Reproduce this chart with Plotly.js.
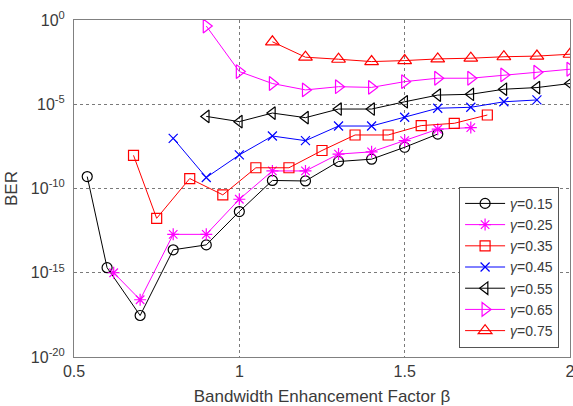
<!DOCTYPE html>
<html>
<head>
<meta charset="utf-8">
<script src="https://cdn.plot.ly/plotly-3.0.1.min.js"></script>
<style>
  html, body { margin: 0; padding: 0; background: #fff; }
  #chart { width: 573px; height: 406px; }
</style>
</head>
<body>
<div id="chart"></div>
<script>
// Bandwidth enhancement factor (beta) and BER for each roll-off gamma
const beta015 = [0.54, 0.6, 0.7, 0.8, 0.9, 1.0, 1.1, 1.2, 1.3, 1.4, 1.5, 1.6];
const ber015  = [5.1e-10, 2.0e-15, 2.9e-18, 2.3e-14, 4.5e-14, 4.3e-12, 3.0e-10, 2.8e-10, 4.0e-9, 5.5e-9, 2.8e-8, 1.7e-7];

const beta025 = [0.62, 0.7, 0.8, 0.9, 1.0, 1.1, 1.2, 1.3, 1.4, 1.5, 1.6, 1.7];
const ber025  = [1.0e-15, 2.5e-17, 1.9e-13, 1.9e-13, 2.3e-11, 1.1e-9, 1.1e-9, 1.1e-8, 1.5e-8, 6.9e-8, 3.3e-7, 4.1e-7];

const beta035 = [0.68, 0.75, 0.85, 0.95, 1.05, 1.15, 1.25, 1.35, 1.45, 1.55, 1.65, 1.75];
const ber035  = [9.3e-9, 1.7e-12, 3.9e-10, 4.2e-11, 1.7e-9, 1.7e-9, 1.8e-8, 1.5e-7, 1.5e-7, 5.4e-7, 7.4e-7, 2.3e-6];

const beta045 = [0.8, 0.9, 1.0, 1.1, 1.2, 1.3, 1.4, 1.5, 1.6, 1.7, 1.8, 1.9];
const ber045  = [9.5e-8, 4.5e-10, 9.8e-9, 1.3e-7, 6.9e-8, 5.1e-7, 5.1e-7, 1.7e-6, 5.8e-6, 6.6e-6, 1.4e-5, 1.8e-5];

const beta055 = [0.9, 1.0, 1.1, 1.2, 1.3, 1.4, 1.5, 1.6, 1.7, 1.8, 1.9, 2.0];
const ber055  = [1.9e-6, 9.3e-7, 3.0e-6, 1.6e-6, 5.2e-6, 5.2e-6, 1.4e-5, 3.5e-5, 3.9e-5, 7.8e-5, 9.8e-5, 1.7e-4];

const beta065 = [0.9, 1.0, 1.1, 1.2, 1.3, 1.4, 1.5, 1.6, 1.7, 1.8, 1.9, 2.0];
const ber065  = [0.44, 8.7e-4, 1.7e-4, 7.1e-5, 1.1e-4, 1.0e-4, 2.2e-4, 3.5e-4, 3.5e-4, 5.5e-4, 7.9e-4, 1.2e-3];

const beta075 = [1.1, 1.2, 1.3, 1.4, 1.5, 1.6, 1.7, 1.8, 1.9, 2.0];
const ber075  = [5.1e-2, 6.2e-3, 4.7e-3, 3.4e-3, 3.9e-3, 4.9e-3, 5.4e-3, 6.6e-3, 7.2e-3, 9.3e-3];

const seriesNames = ["<i>γ</i>=0.15", "<i>γ</i>=0.25", "<i>γ</i>=0.35", "<i>γ</i>=0.45",
                     "<i>γ</i>=0.55", "<i>γ</i>=0.65", "<i>γ</i>=0.75"];
const xTickVals = [0.5, 1, 1.5, 2];
const xTickText = ["0.5", "1", "1.5", "2"];
const yTickVals = [1, 1e-5, 1e-10, 1e-15, 1e-20];
const yTickText = ["10<sup>0</sup>", "10<sup>-5</sup>", "10<sup>-10</sup>", "10<sup>-15</sup>", "10<sup>-20</sup>"];

const xs = [beta015, beta025, beta035, beta045, beta055, beta065, beta075];
const ys = [ber015, ber025, ber035, ber045, ber055, ber065, ber075];
const colors = ["#000000", "#ff00ff", "#ff0000", "#0000ff", "#000000", "#ff00ff", "#ff0000"];
const symbols = ["circle-open", "asterisk-open", "square-open", "x-thin-open",
                 "triangle-left-open", "triangle-right-open", "triangle-up-open"];
const sizes = [10, 10, 10, 9, 11, 12, 12];

const traces = xs.map((x, i) => ({
  type: "scatter",
  mode: "lines+markers",
  name: seriesNames[i],
  x: x,
  y: ys[i],
  line: { color: colors[i], width: 1 },
  marker: { symbol: symbols[i], size: sizes[i], color: colors[i],
            line: { color: colors[i], width: 1.2 } }
}));

const fontFamily = "Liberation Sans, Arial, sans-serif";
const tickFont = { family: fontFamily, size: 16, color: "#3a3a3a" };
const titleFont = { family: fontFamily, size: 17, color: "#3a3a3a" };
const legendFont = { family: fontFamily, size: 14, color: "#3a3a3a" };

const layout = {
  width: 573,
  height: 406,
  margin: { l: 74, r: 3, t: 20, b: 49 },
  paper_bgcolor: "#ffffff",
  plot_bgcolor: "#ffffff",
  showlegend: true,
  font: tickFont,
  xaxis: {
    range: [0.5, 2],
    tickvals: xTickVals,
    ticktext: xTickText,
    tickfont: tickFont,
    ticklabeloverflow: "allow",
    automargin: false,
    showgrid: true,
    gridcolor: "#7a7a7a",
    griddash: "dot",
    gridwidth: 1,
    zeroline: false,
    showline: true,
    linecolor: "#808080",
    linewidth: 1,
    mirror: true,
    ticks: "",
    title: { text: "Bandwidth Enhancement Factor β", font: titleFont, standoff: 12 }
  },
  yaxis: {
    type: "log",
    range: [-20, 0],
    tickvals: yTickVals,
    ticktext: yTickText,
    tickfont: tickFont,
    ticklabelstandoff: 5,
    automargin: false,
    showgrid: true,
    gridcolor: "#7a7a7a",
    griddash: "dot",
    gridwidth: 1,
    zeroline: false,
    showline: true,
    linecolor: "#808080",
    linewidth: 1,
    mirror: true,
    ticks: "",
    title: { text: "BER", font: titleFont, standoff: 8 }
  },
  legend: {
    x: 0.978,
    y: 0.505,
    xanchor: "right",
    yanchor: "top",
    bgcolor: "#ffffff",
    bordercolor: "#555555",
    borderwidth: 1,
    font: legendFont,
    itemwidth: 40,
    tracegroupgap: 0
  }
};

Plotly.newPlot("chart", traces, layout, { displayModeBar: false, staticPlot: true });
</script>
</body>
</html>
